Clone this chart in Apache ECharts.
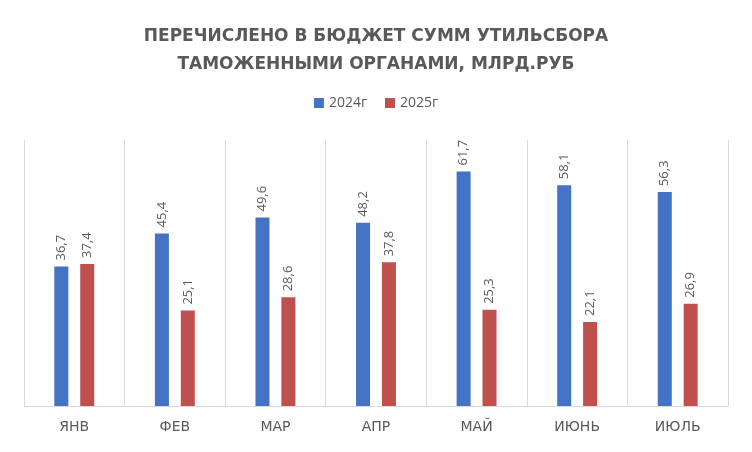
<!DOCTYPE html>
<html><head><meta charset="utf-8">
<script src="https://cdn.jsdelivr.net/npm/echarts@6/dist/echarts.min.js"></script>
<style>html,body{margin:0;padding:0;background:#fff}#c{width:752px;height:452px}</style>
</head><body><div id="c"></div>
<script>
const categories = ['ЯНВ','ФЕВ','МАР','АПР','МАЙ','ИЮНЬ','ИЮЛЬ'];
const s2024 = [36.7,45.4,49.6,48.2,61.7,58.1,56.3];
const s2025 = [37.4,25.1,28.6,37.8,25.3,22.1,26.9];
const lbl = {show:true,position:'top',rotate:90,align:'left',verticalAlign:'middle',distance:6,color:'#595959',fontSize:13,fontFamily:'Open Sans',formatter:p=>String(p.value).replace('.',',')};
const chart = echarts.init(document.getElementById('c'));
chart.setOption({
  animation:false,
  title:{text:'ПЕРЕЧИСЛЕНО В БЮДЖЕТ СУММ УТИЛЬСБОРА\nТАМОЖЕННЫМИ ОРГАНАМИ, МЛРД.РУБ',left:'center',top:18,
    textStyle:{color:'#595959',fontSize:17,fontWeight:'bold',fontFamily:'DejaVu Sans',lineHeight:28}},
  legend:{top:91,left:'center',itemWidth:10,itemHeight:10,itemGap:18,icon:'rect',textStyle:{color:'#595959',fontSize:14,fontFamily:'Open Sans'}},
  grid:{left:24,right:24,top:140,bottom:46},
  xAxis:{type:'category',data:categories,axisTick:{show:false},
    axisLine:{lineStyle:{color:'#d9d9d9'}},
    splitLine:{show:true,lineStyle:{color:'#d9d9d9'}},
    axisLabel:{color:'#595959',fontSize:14,margin:14,fontFamily:'DejaVu Sans'}},
  yAxis:{type:'value',min:0,max:70,show:false,splitLine:{show:false}},
  series:[
    {name:'2024г',type:'bar',data:s2024,barWidth:14,barGap:'85%',itemStyle:{color:'#4472C4'},label:lbl},
    {name:'2025г',type:'bar',data:s2025,barWidth:14,itemStyle:{color:'#C0504D'},label:lbl}
  ]
});
</script></body></html>
